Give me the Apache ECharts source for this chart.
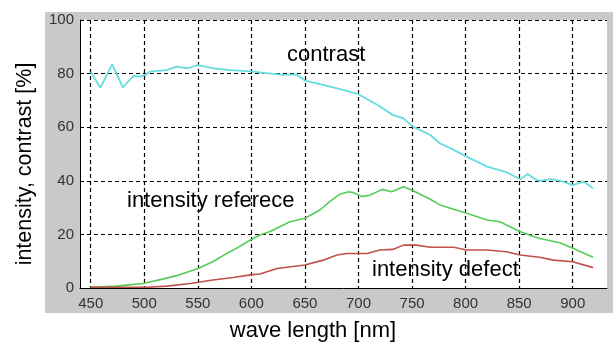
<!DOCTYPE html>
<html>
<head>
<meta charset="utf-8">
<script src="https://cdn.jsdelivr.net/npm/echarts@6/dist/echarts.min.js"></script>
<style>
  html, body { margin: 0; padding: 0; background: #fff; }
  #chart { width: 613px; height: 342px; }
</style>
</head>
<body>
<div id="chart"></div>
<script>
// x axis tick labels
var xTicks = [450, 500, 550, 600, 650, 700, 750, 800, 850, 900];

// contrast (cyan)
var contrastWl = [450, 459, 470, 480, 490, 496, 501, 505, 521, 530, 540, 550, 564, 580, 600, 611, 630, 642, 650, 664, 680, 700, 717, 732, 742, 750, 767, 776, 792, 801, 820, 838, 851, 858, 865, 869, 880, 891, 900, 910, 919];
var contrastVal = [80.7, 74.7, 83.5, 74.9, 79.2, 78.9, 79.5, 80.7, 81.3, 82.6, 82, 83.2, 82, 81.3, 80.8, 80.3, 79.5, 79.7, 77.4, 76.1, 74.5, 72.3, 68.5, 64.6, 63.3, 60.4, 57.1, 54, 50.9, 49, 45.3, 43.2, 40.6, 42.5, 40.6, 40, 40.6, 39.7, 38.4, 39.7, 37.2];

// intensity reference (green)
var refWl = [450, 474, 499, 518, 533, 550, 564, 577, 586, 599, 608, 617, 636, 650, 664, 673, 683, 691, 695, 703, 711, 722, 731, 742, 751, 767, 776, 801, 820, 832, 851, 869, 888, 900, 919];
var refVal = [0.3, 0.7, 1.7, 3.4, 4.9, 7.3, 9.8, 12.9, 14.8, 17.9, 19.8, 21, 24.7, 26, 29.1, 32.2, 35.1, 35.9, 35.6, 34.1, 34.7, 36.8, 35.9, 37.8, 36.3, 33.1, 31, 27.9, 25.4, 24.7, 21, 18.5, 16.9, 14.8, 11.5];

// intensity defect (red)
var defectWl = [450, 504, 521, 543, 564, 583, 599, 608, 624, 650, 667, 680, 689, 708, 720, 732, 742, 754, 767, 789, 801, 820, 838, 851, 869, 882, 900, 919];
var defectVal = [0.3, 0.3, 0.7, 1.7, 3, 3.9, 4.9, 5.2, 7.3, 8.6, 10.4, 12.3, 12.9, 12.9, 14.2, 14.4, 16, 16, 15.2, 15.2, 14.2, 14.2, 13.5, 12.3, 11.5, 10.4, 9.8, 7.6];

function pairs(xs, ys) {
    return xs.map(function (x, i) { return [x, ys[i]]; });
}

var FONT = '"Liberation Sans", Arial, sans-serif';

var chart = echarts.init(document.getElementById('chart'));

var option = {
    animation: false,
    backgroundColor: '#fff',
    graphic: [
        {   // grey panel behind the axes
            type: 'rect', z: -10, silent: true,
            shape: { x: 45, y: 12, width: 568, height: 301 },
            style: { fill: '#c9c9c9' }
        },
        {
            type: 'text', x: 287, y: 55,
            style: { text: 'contrast', font: '22px ' + FONT, fill: '#000', verticalAlign: 'middle' }
        },
        {
            type: 'text', x: 127, y: 201,
            style: { text: 'intensity referece', font: '22px ' + FONT, fill: '#000', verticalAlign: 'middle' }
        },
        {
            type: 'text', x: 372, y: 270,
            style: { text: 'intensity defect', font: '22px ' + FONT, fill: '#000', verticalAlign: 'middle' }
        },
        {   // x axis name
            type: 'text', x: 313, y: 331,
            style: { text: 'wave length [nm]', font: '22px ' + FONT, fill: '#000', align: 'center', verticalAlign: 'middle' }
        },
        {   // y axis name
            type: 'text', x: 25, y: 164, rotation: Math.PI / 2,
            style: { text: 'intensity, contrast [%]', font: '21.5px ' + FONT, fill: '#000', align: 'center', verticalAlign: 'middle' }
        }
    ],
    grid: {
        left: 80,
        right: 6,
        top: 20,
        bottom: 54,
        show: true,
        backgroundColor: '#fff',
        borderWidth: 0
    },
    xAxis: {
        type: 'value',
        min: 440,
        max: 932,
        axisLine: { lineStyle: { color: '#000', width: 1 } },
        axisTick: { show: false, customValues: xTicks },
        axisLabel: {
            customValues: xTicks,
            margin: 8,
            fontSize: 15,
            fontFamily: FONT,
            color: '#333'
        },
        splitLine: {
            show: true,
            lineStyle: { color: '#000', type: [4, 3], width: 1.2 }
        }
    },
    yAxis: {
        type: 'value',
        min: 0,
        max: 100,
        interval: 20,
        axisLine: { show: true, lineStyle: { color: '#000', width: 1 } },
        axisTick: { show: false },
        axisLabel: {
            margin: 6,
            fontSize: 15,
            fontFamily: FONT,
            color: '#333'
        },
        splitLine: {
            show: true,
            lineStyle: { color: '#000', type: [4, 3], width: 1.2 }
        }
    },
    series: [
        {
            name: 'contrast',
            type: 'line',
            data: pairs(contrastWl, contrastVal),
            showSymbol: false,
            lineStyle: { color: '#66dddd', width: 1.8 }
        },
        {
            name: 'intensity reference',
            type: 'line',
            data: pairs(refWl, refVal),
            showSymbol: false,
            lineStyle: { color: '#55cc55', width: 1.6 }
        },
        {
            name: 'intensity defect',
            type: 'line',
            data: pairs(defectWl, defectVal),
            showSymbol: false,
            lineStyle: { color: '#c0504a', width: 1.6 }
        }
    ]
};

chart.setOption(option);
</script>
</body>
</html>
